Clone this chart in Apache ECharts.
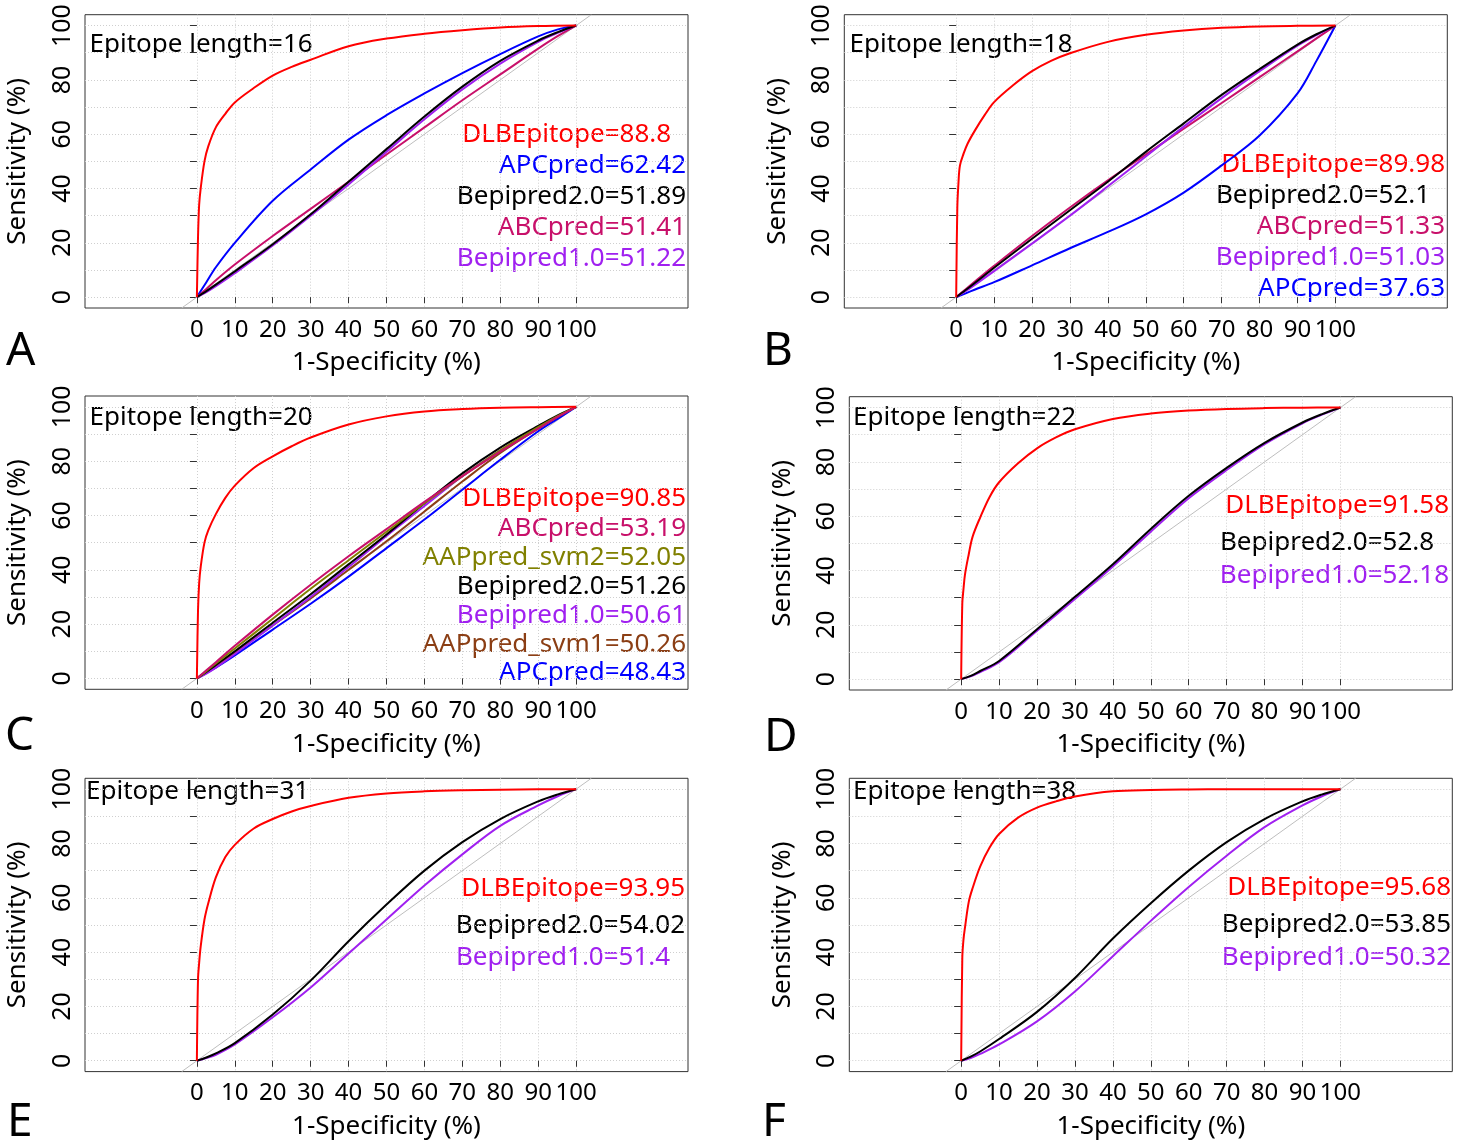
<!DOCTYPE html>
<html><head><meta charset="utf-8">
<script src="https://cdn.jsdelivr.net/npm/echarts@6/dist/echarts.min.js"></script>
<style>html,body{margin:0;padding:0;background:#fff}#c{width:1459px;height:1147px}</style>
</head><body><div id="c"></div>
<script>
// ---------------- DATA ----------------
const panelLetters = ['A', 'B', 'C', 'D', 'E', 'F'];
const epitopeLengths = [16, 18, 20, 22, 31, 38];
const xTickValues = [0, 10, 20, 30, 40, 50, 60, 70, 80, 90, 100];
const yTickValues = [0, 10, 20, 30, 40, 50, 60, 70, 80, 90, 100];
const yLabelValues = [0, 20, 40, 60, 80, 100];
const diagonalEnds = [-4, 104];

// false positive rate grids (%)
const fpr = [0, 2.5, 5, 10, 20, 30, 40, 50, 60, 70, 80, 90, 95, 100];
const fprRed = [0, 0.3, 0.6, 1, 2, 3, 5, 7.5, 10, 15, 20, 25, 30, 40, 50, 60, 70, 80, 90, 100];

// Panel A (epitope length 16)
const dlbA = [0, 22, 34, 40, 50, 55.5, 62.5, 67.5, 71.7, 77, 81.6, 84.8, 87.4, 92.4, 95.2, 97, 98.3, 99.3, 99.8, 100];
const apcA = [0, 5.5, 11, 20, 35.5, 47, 58, 67, 75, 82.5, 89.5, 96, 98.5, 100];
const bp2A = [0, 2.2, 4.6, 9.5, 19.5, 30.5, 42.5, 54.5, 66.5, 77.5, 87, 94.5, 97.5, 100];
const abcA = [0, 3, 6.2, 12, 22.5, 32.5, 42.5, 52.5, 62.5, 72.5, 82, 91.5, 96, 100];
const bp1A = [0, 1.8, 4, 8.8, 19, 30, 41.5, 53.5, 65.5, 76.5, 86, 94, 97.2, 100];

// Panel B (epitope length 18)
const dlbB = [0, 33, 42, 48.5, 53, 56.5, 61.5, 67, 71.8, 78, 83.2, 87, 89.8, 94, 96.6, 98.2, 99.2, 99.7, 99.9, 100];
const bp2B = [0, 2.6, 5.3, 10.8, 21.5, 32, 42.5, 53.5, 64, 74.5, 84, 93, 96.8, 100];
const abcB = [0, 2.9, 5.8, 11.5, 22.5, 33, 43, 52.5, 62, 71.5, 81, 90.5, 95.3, 100];
const bp1B = [0, 2.2, 4.6, 9.6, 19.7, 30, 40.8, 51.8, 62.8, 73.3, 83.2, 92.6, 96.5, 100];
const apcB = [0, 1.4, 2.8, 5.5, 11.7, 18, 24, 30.5, 38.5, 48.5, 59.5, 75, 87, 100];

// Panel C (epitope length 20)
const dlbC = [0, 25, 35, 41, 50, 54.5, 60.5, 66.5, 71, 77.5, 81.8, 85.5, 88.7, 93.5, 96.5, 98.3, 99.2, 99.7, 99.9, 100];
const abcC = [0, 3, 6, 12, 23.5, 34.5, 45, 55, 65, 74.5, 83.5, 92, 96.2, 100];
const svm2C = [0, 2.7, 5.5, 11, 22, 33, 43.5, 54, 64.5, 74.5, 84, 92.5, 96.5, 100];
const bp2C = [0, 2.4, 5, 10, 20.5, 31, 42, 53, 64.5, 75.5, 85, 93, 96.8, 100];
const bp1C = [0, 1.8, 4, 9, 19.5, 30, 41, 52.5, 63.5, 74.5, 84, 92.5, 96.5, 100];
const svm1C = [0, 2.2, 4.5, 9.5, 19.5, 29.5, 40, 50.5, 61.5, 72.5, 83, 92, 96.2, 100];
const apcC = [0, 2, 4, 8.5, 18, 27.5, 37.5, 48, 58.5, 69.5, 80.5, 91, 95.5, 100];

// Panel D (epitope length 22)
const dlbD = [0, 28, 33, 38.5, 46, 52.4, 59.5, 67.1, 72.5, 79.5, 85, 89, 92, 95.8, 97.8, 98.9, 99.5, 99.8, 99.95, 100];
const bp2D = [0, 1.2, 3, 6.7, 18.4, 30.3, 42.3, 55.3, 67.5, 77.8, 87, 94.5, 97.5, 100];
const bp1D = [0, 1, 2.6, 6.2, 17.8, 29.5, 41.5, 54.3, 66.6, 77, 86.5, 94.2, 97.3, 100];

// Panel E (epitope length 31)
const dlbE = [0, 30, 36, 42, 52, 58, 67.5, 75, 79.5, 85.5, 89, 91.8, 93.8, 96.8, 98.4, 99.2, 99.6, 99.8, 99.95, 100];
const bp2E = [0, 1.2, 2.7, 6.5, 17, 29.5, 44, 57.5, 70, 80.5, 89, 95.5, 98, 100];
const bp1E = [0, 1, 2.2, 6, 16, 27, 39.5, 52, 64.5, 76, 86.5, 94, 97.3, 100];

// Panel F (epitope length 38)
const dlbF = [0, 38, 44.5, 49, 58.5, 63.5, 71.5, 78.5, 83.5, 89.5, 93.2, 95.5, 97.3, 99.2, 99.7, 99.9, 100, 100, 100, 100];
const bp2F = [0, 1.5, 3.4, 8, 18, 30.5, 45, 58, 70, 80.5, 89, 95.5, 98, 100];
const bp1F = [0, 1, 2.5, 6, 14.5, 25.5, 38.5, 51.5, 64, 75.5, 86, 94, 97.3, 100];

// AUC legend entries: [method, AUC text]
const legendA = [['DLBEpitope', '88.8'], ['APCpred', '62.42'], ['Bepipred2.0', '51.89'], ['ABCpred', '51.41'], ['Bepipred1.0', '51.22']];
const legendB = [['DLBEpitope', '89.98'], ['Bepipred2.0', '52.1'], ['ABCpred', '51.33'], ['Bepipred1.0', '51.03'], ['APCpred', '37.63']];
const legendC = [['DLBEpitope', '90.85'], ['ABCpred', '53.19'], ['AAPpred_svm2', '52.05'], ['Bepipred2.0', '51.26'], ['Bepipred1.0', '50.61'], ['AAPpred_svm1', '50.26'], ['APCpred', '48.43']];
const legendD = [['DLBEpitope', '91.58'], ['Bepipred2.0', '52.8'], ['Bepipred1.0', '52.18']];
const legendE = [['DLBEpitope', '93.95'], ['Bepipred2.0', '54.02'], ['Bepipred1.0', '51.4']];
const legendF = [['DLBEpitope', '95.68'], ['Bepipred2.0', '53.85'], ['Bepipred1.0', '50.32']];

// ---------------- STYLE / LAYOUT ----------------
const FONT = '"Noto Sans", sans-serif';
const methodColor = {
  'DLBEpitope': '#FF0000', 'APCpred': '#0000FF', 'Bepipred2.0': '#000000',
  'ABCpred': '#C8106A', 'Bepipred1.0': '#A020F0', 'AAPpred_svm2': '#808000', 'AAPpred_svm1': '#8B3E14'
};
const panelCurves = [
  [['APCpred', fpr, apcA], ['ABCpred', fpr, abcA], ['Bepipred1.0', fpr, bp1A], ['Bepipred2.0', fpr, bp2A], ['DLBEpitope', fprRed, dlbA]],
  [['APCpred', fpr, apcB], ['ABCpred', fpr, abcB], ['Bepipred1.0', fpr, bp1B], ['Bepipred2.0', fpr, bp2B], ['DLBEpitope', fprRed, dlbB]],
  [['APCpred', fpr, apcC], ['AAPpred_svm1', fpr, svm1C], ['Bepipred1.0', fpr, bp1C], ['Bepipred2.0', fpr, bp2C], ['AAPpred_svm2', fpr, svm2C], ['ABCpred', fpr, abcC], ['DLBEpitope', fprRed, dlbC]],
  [['Bepipred1.0', fpr, bp1D], ['Bepipred2.0', fpr, bp2D], ['DLBEpitope', fprRed, dlbD]],
  [['Bepipred1.0', fpr, bp1E], ['Bepipred2.0', fpr, bp2E], ['DLBEpitope', fprRed, dlbE]],
  [['Bepipred1.0', fpr, bp1F], ['Bepipred2.0', fpr, bp2F], ['DLBEpitope', fprRed, dlbF]]
];
const panelLegends = [legendA, legendB, legendC, legendD, legendE, legendF];

const W = 603, H = 293.3;
const DIGIT_W = 14.8;
const layout = [
  { l: 85,    t: 14.7,  letter: [6, 352],    title: [89.5, 44.2],  legY: [135, 166, 197, 228, 259], legR: 686 },
  { l: 844.3, t: 14.7,  letter: [763, 352],  title: [849.5, 44.2], legY: [165, 196, 227, 258, 289], legR: 1445 },
  { l: 85,    t: 396,   letter: [5, 737],    title: [89.5, 417.5], legY: [499, 529, 558, 587, 616, 645, 673], legR: 686 },
  { l: 849.3, t: 396.7, letter: [764, 737.5], title: [853, 418],   legY: [506, 543, 576], legR: 1449 },
  { l: 85,    t: 778.3, letter: [7, 1122.5], title: [86, 792],     legY: [889, 926, 958], legR: 685 },
  { l: 849.3, t: 778.3, letter: [762, 1122.5], title: [853, 791.7], legY: [888, 925, 958], legR: 1451 }
];
const gridDots = { type: [1, 2], color: '#CFCFCF', width: 1 };

const grids = [], xAxes = [], yAxes = [], series = [], graphics = [];
layout.forEach((L, i) => {
  grids.push({ left: L.l, top: L.t, width: W, height: H, show: true, borderColor: '#333', borderWidth: 1, backgroundColor: 'transparent', outerBoundsMode: 'none' });
  xAxes.push({
    type: 'value', gridIndex: i, min: -29.5, max: 129.5,
    axisLine: { show: false },
    axisTick: { show: true, customValues: xTickValues, length: 6, lineStyle: { color: '#333' } },
    axisLabel: { customValues: xTickValues, fontSize: 24, fontFamily: FONT, color: '#000', margin: 10 },
    splitLine: { show: true, lineStyle: gridDots },
    name: '1-Specificity (%)', nameLocation: 'middle', nameGap: 42,
    nameTextStyle: { fontSize: 26, fontFamily: FONT, color: '#000' }
  });
  yAxes.push({
    type: 'value', gridIndex: i, min: -4, max: 104,
    axisLine: { show: false },
    axisTick: { show: true, customValues: yTickValues, length: 7, lineStyle: { color: '#333' } },
    axisLabel: { customValues: yLabelValues, rotate: 90, fontSize: 25, fontFamily: FONT, color: '#000', margin: 10 },
    splitLine: { show: true, lineStyle: gridDots },
    name: 'Sensitivity (%)', nameLocation: 'middle', nameGap: 54, nameRotate: 90,
    nameTextStyle: { fontSize: 26, fontFamily: FONT, color: '#000' }
  });
  series.push({
    type: 'line', xAxisIndex: i, yAxisIndex: i, symbol: 'none', silent: true, z: 1,
    data: [[diagonalEnds[0], diagonalEnds[0]], [diagonalEnds[1], diagonalEnds[1]]],
    lineStyle: { color: '#BEBEBE', width: 1 }
  });
  panelCurves[i].forEach(([name, xs, ys]) => {
    series.push({
      type: 'line', name, xAxisIndex: i, yAxisIndex: i, symbol: 'none', silent: true,
      smooth: 0.35,
      data: xs.map((x, k) => [x, ys[k]]),
      lineStyle: { color: methodColor[name], width: 2 }
    });
  });
  graphics.push({ type: 'text', left: L.letter[0], top: L.letter[1] - 23, silent: true,
    style: { text: panelLetters[i], fontSize: 46, fontFamily: FONT, fill: '#000' } });
  graphics.push({ type: 'text', x: L.title[0], y: L.title[1], silent: true,
    style: { text: 'Epitope length=' + epitopeLengths[i], fontSize: 26, fontFamily: FONT, fill: '#000', textAlign: 'left', textVerticalAlign: 'middle' } });
  panelLegends[i].forEach(([name, auc], k) => {
    const decimals = (auc.split('.')[1] || '').length;
    graphics.push({ type: 'text', x: L.legR - (2 - decimals) * DIGIT_W, y: L.legY[k], silent: true,
      style: { text: name + '=' + auc, fontSize: 26, fontFamily: FONT, fill: methodColor[name], textAlign: 'right', textVerticalAlign: 'middle' } });
  });
});

const chart = echarts.init(document.getElementById('c'), null, { renderer: 'canvas' });
chart.setOption({
  animation: false,
  backgroundColor: '#fff',
  grid: grids, xAxis: xAxes, yAxis: yAxes, series,
  graphic: { elements: graphics }
});
</script></body></html>
